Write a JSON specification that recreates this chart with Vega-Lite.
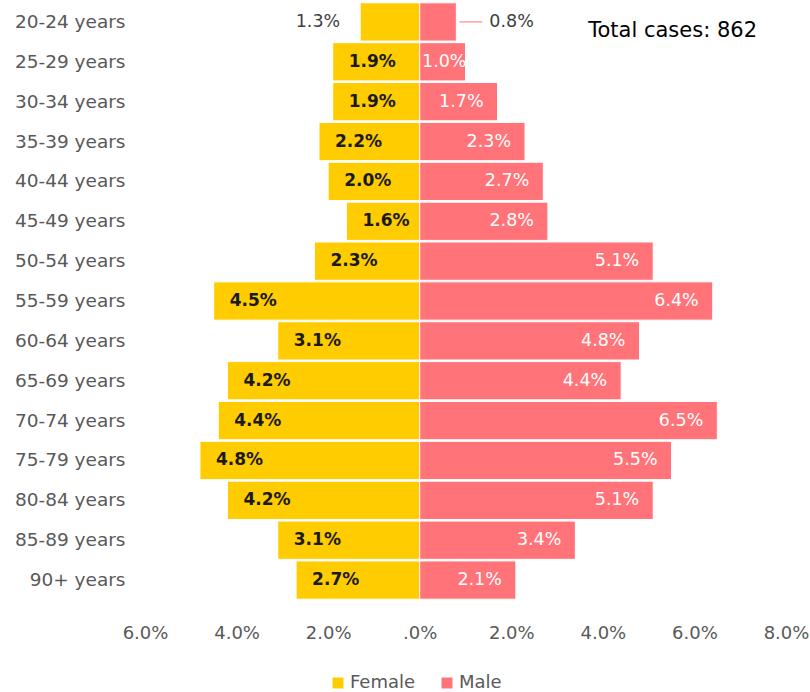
{
  "$schema": "https://vega.github.io/schema/vega-lite/v6.json",
  "width": 641,
  "height": 598,
  "autosize": "none",
  "padding": {"left": 145, "top": 2, "right": 24, "bottom": 92},
  "background": "white",
  "config": {"view": {"stroke": null}, "font": "DejaVu Sans"},
  "title": {"text": "Total cases: 862", "anchor": "end", "frame": "group", "orient": "top", "fontSize": 21, "fontWeight": "normal", "color": "#000000", "font": "DejaVu Sans", "offset": -39, "dx": -29},
  "data": {"values": [
    {"age": "20-24 years", "sex": "Female", "value": -1.3},
    {"age": "25-29 years", "sex": "Female", "value": -1.9},
    {"age": "30-34 years", "sex": "Female", "value": -1.9},
    {"age": "35-39 years", "sex": "Female", "value": -2.2},
    {"age": "40-44 years", "sex": "Female", "value": -2.0},
    {"age": "45-49 years", "sex": "Female", "value": -1.6},
    {"age": "50-54 years", "sex": "Female", "value": -2.3},
    {"age": "55-59 years", "sex": "Female", "value": -4.5},
    {"age": "60-64 years", "sex": "Female", "value": -3.1},
    {"age": "65-69 years", "sex": "Female", "value": -4.2},
    {"age": "70-74 years", "sex": "Female", "value": -4.4},
    {"age": "75-79 years", "sex": "Female", "value": -4.8},
    {"age": "80-84 years", "sex": "Female", "value": -4.2},
    {"age": "85-89 years", "sex": "Female", "value": -3.1},
    {"age": "90+ years", "sex": "Female", "value": -2.7},
    {"age": "20-24 years", "sex": "Male", "value": 0.8},
    {"age": "25-29 years", "sex": "Male", "value": 1.0},
    {"age": "30-34 years", "sex": "Male", "value": 1.7},
    {"age": "35-39 years", "sex": "Male", "value": 2.3},
    {"age": "40-44 years", "sex": "Male", "value": 2.7},
    {"age": "45-49 years", "sex": "Male", "value": 2.8},
    {"age": "50-54 years", "sex": "Male", "value": 5.1},
    {"age": "55-59 years", "sex": "Male", "value": 6.4},
    {"age": "60-64 years", "sex": "Male", "value": 4.8},
    {"age": "65-69 years", "sex": "Male", "value": 4.4},
    {"age": "70-74 years", "sex": "Male", "value": 6.5},
    {"age": "75-79 years", "sex": "Male", "value": 5.5},
    {"age": "80-84 years", "sex": "Male", "value": 5.1},
    {"age": "85-89 years", "sex": "Male", "value": 3.4},
    {"age": "90+ years", "sex": "Male", "value": 2.1}
  ]},
  "transform": [{"calculate": "format(abs(datum.value), '.1f') + '%'", "as": "label"}],
  "encoding": {
    "y": {"field": "age", "type": "nominal", "sort": null,
      "scale": {"paddingInner": 0.04, "paddingOuter": 0.02},
      "axis": {"title": null, "domain": false, "ticks": false, "labelPadding": 20, "labelFontSize": 18.5, "labelColor": "#595959", "labelFont": "DejaVu Sans"}},
    "x": {"field": "value", "type": "quantitative",
      "scale": {"domain": [-6, 8], "nice": false, "zero": false},
      "axis": {"title": null, "domain": false, "ticks": false, "grid": false, "values": [-6, -4, -2, 0, 2, 4, 6, 8],
        "labelExpr": "datum.value == 0 ? '.0%' : format(abs(datum.value), '.1f') + '%'",
        "labelPadding": 24, "labelFontSize": 18, "labelColor": "#595959", "labelFont": "DejaVu Sans", "labelFlush": false}}
  },
  "layer": [
    {"mark": {"type": "bar", "stroke": "white", "strokeWidth": 1},
     "encoding": {"color": {"field": "sex", "type": "nominal",
       "scale": {"domain": ["Female", "Male"], "range": ["#FFCC00", "#FF7379"]},
       "legend": {"title": null, "orient": "none", "direction": "horizontal", "legendX": 184, "legendY": 672, "symbolType": "square", "symbolSize": 120, "symbolStrokeWidth": 0, "labelFontSize": 18, "labelColor": "#595959", "labelFont": "DejaVu Sans", "columnPadding": 22, "labelOffset": 3}}}},
    {"transform": [{"filter": "datum.sex == 'Female' && datum.age != '20-24 years'"}],
     "mark": {"type": "text", "align": "left", "dx": 16, "fontSize": 17, "fontWeight": "bold", "color": "#1a1a1a", "font": "DejaVu Sans"},
     "encoding": {"text": {"field": "label"}}},
    {"transform": [{"filter": "datum.sex == 'Male' && datum.age != '20-24 years' && datum.age != '25-29 years'"}],
     "mark": {"type": "text", "align": "right", "dx": -14, "fontSize": 17.5, "color": "white", "font": "DejaVu Sans"},
     "encoding": {"text": {"field": "label"}}},
    {"transform": [{"filter": "datum.sex == 'Male' && datum.age == '25-29 years'"}],
     "mark": {"type": "text", "align": "right", "dx": 1, "fontSize": 17.5, "color": "white", "font": "DejaVu Sans"},
     "encoding": {"text": {"field": "label"}}},
    {"transform": [{"filter": "datum.sex == 'Female' && datum.age == '20-24 years'"}],
     "mark": {"type": "text", "align": "right", "dx": -20, "fontSize": 17.5, "color": "#404040", "font": "DejaVu Sans"},
     "encoding": {"text": {"field": "label"}}},
    {"transform": [{"filter": "datum.sex == 'Male' && datum.age == '20-24 years'"}],
     "mark": {"type": "text", "align": "left", "dx": 33, "fontSize": 17.5, "color": "#404040", "font": "DejaVu Sans"},
     "encoding": {"text": {"field": "label"}}},
    {"transform": [{"filter": "datum.sex == 'Male' && datum.age == '20-24 years'"}],
     "mark": {"type": "rule", "color": "#FF7379", "strokeWidth": 1, "xOffset": 3, "x2Offset": 26},
     "encoding": {"x2": {"field": "value"}}}
  ]
}
